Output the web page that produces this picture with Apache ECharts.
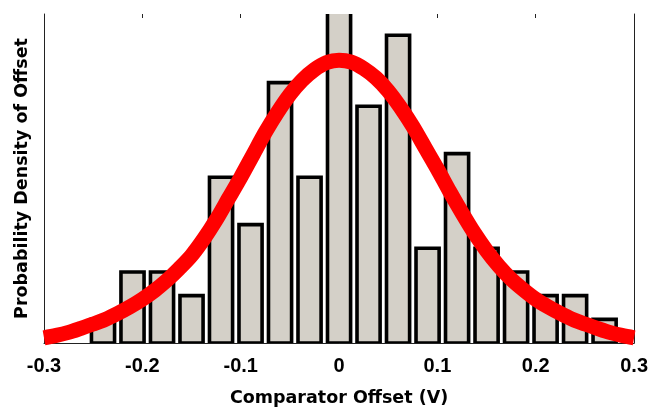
<!DOCTYPE html>
<html>
<head>
<meta charset="utf-8">
<script src="https://cdn.jsdelivr.net/npm/echarts@6/dist/echarts.min.js"></script>
<style>
  html, body { margin: 0; padding: 0; background: #fff; }
  #chart { width: 651px; height: 412px; }
</style>
</head>
<body>
<div id="chart"></div>
<script>
// histogram bins (centre of each bin, volts) and counts
var binCenters = [-0.24, -0.21, -0.18, -0.15, -0.12, -0.09, -0.06, -0.03, 0,
                  0.03, 0.06, 0.09, 0.12, 0.15, 0.18, 0.21, 0.24, 0.27];
var binCounts = [1, 3, 3, 2, 7, 5, 11, 7, 14, 10, 13, 4, 8, 4, 3, 2, 2, 1];
var binWidth = 0.03;

// fitted density curve, every 0.0125 V
var curveX = [-0.3, -0.2875, -0.275, -0.2625, -0.25, -0.2375, -0.225, -0.2125,
              -0.2, -0.1875, -0.175, -0.1625, -0.15, -0.1375, -0.125, -0.1125,
              -0.1, -0.0875, -0.075, -0.0625, -0.05, -0.0375, -0.025, -0.0125,
              0,
              0.0125, 0.025, 0.0375, 0.05, 0.0625, 0.075, 0.0875, 0.1,
              0.1125, 0.125, 0.1375, 0.15, 0.1625, 0.175, 0.1875, 0.2,
              0.2125, 0.225, 0.2375, 0.25, 0.2625, 0.275, 0.2875, 0.3];
var curveY = [0.22, 0.32, 0.45, 0.62, 0.8, 1.0, 1.25, 1.53,
              1.85, 2.22, 2.65, 3.15, 3.7, 4.4, 5.2, 6.1,
              7.0, 7.95, 8.9, 9.75, 10.5, 11.1, 11.55, 11.85,
              11.95,
              11.87, 11.6, 11.2, 10.65, 9.95, 9.15, 8.25, 7.35,
              6.4, 5.5, 4.65, 3.9, 3.25, 2.7, 2.25, 1.85,
              1.53, 1.25, 1.0, 0.8, 0.62, 0.45, 0.32, 0.22];

// x tick labels
var xTicks = [-0.3, -0.2, -0.1, 0, 0.1, 0.2, 0.3];

var barData = [];
for (var i = 0; i < binCenters.length; i++) {
    barData.push([binCenters[i], binCounts[i]]);
}
var lineData = [];
for (var j = 0; j < curveX.length; j++) {
    lineData.push([curveX[j], curveY[j]]);
}

var myChart = echarts.init(document.getElementById('chart'));

var labelFont = {
    color: '#000',
    fontFamily: '"Liberation Sans", Arial, sans-serif',
    fontWeight: 'bold',
    fontSize: 20
};
var nameFont = {
    color: '#000',
    fontFamily: '"DejaVu Sans", sans-serif',
    fontWeight: 'bold',
    fontSize: 17.5
};

// one histogram bar; a bar taller than the plot is cut at the top with no top edge
function renderBar(params, api) {
    var x = api.value(0);
    var h = api.value(1);
    var p0 = api.coord([x - binWidth / 2, 0]);
    var p1 = api.coord([x + binWidth / 2, h]);
    var inset = 3.2;
    var left = p0[0] + inset;
    var right = p1[0] - inset;
    var bottom = p0[1];
    var gridTop = params.coordSys.y;
    if (p1[1] >= gridTop) {
        return {
            type: 'rect',
            shape: { x: left, y: p1[1], width: right - left, height: bottom - p1[1] },
            style: { fill: '#d4d0c8', stroke: '#000', lineWidth: 3.6 }
        };
    }
    return {
        type: 'group',
        children: [{
            type: 'rect',
            shape: { x: left, y: gridTop, width: right - left, height: bottom - gridTop },
            style: { fill: '#d4d0c8' }
        }, {
            type: 'polyline',
            shape: { points: [[left, gridTop], [left, bottom], [right, bottom], [right, gridTop]] },
            style: { fill: null, stroke: '#000', lineWidth: 3.6 }
        }]
    };
}

var option = {
    backgroundColor: '#fff',
    animation: false,
    grid: { left: 44, right: 16, top: 14, bottom: 69 },
    xAxis: [{
        type: 'value',
        position: 'bottom',
        min: xTicks[0],
        max: xTicks[xTicks.length - 1],
        interval: 0.1,
        name: 'Comparator Offset (V)',
        nameLocation: 'middle',
        nameGap: 46,
        nameTextStyle: nameFont,
        axisLine: { show: true, onZero: false, lineStyle: { color: '#222', width: 1 } },
        axisTick: { show: true, inside: true, length: 4, lineStyle: { color: '#222' } },
        axisLabel: Object.assign({
            margin: 13,
            formatter: function (v) {
                return Math.abs(v) < 1e-9 ? '0' : v.toFixed(1);
            }
        }, labelFont),
        splitLine: { show: false }
    }, {
        type: 'value',
        position: 'top',
        min: xTicks[0],
        max: xTicks[xTicks.length - 1],
        interval: 0.1,
        axisLine: { show: false, onZero: false },
        axisTick: { show: true, inside: true, length: 4, lineStyle: { color: '#222' } },
        axisLabel: { show: false },
        splitLine: { show: false }
    }],
    yAxis: [{
        type: 'value',
        position: 'left',
        min: 0,
        max: 13.9,
        name: 'Probability Density of Offset',
        nameLocation: 'middle',
        nameGap: 13,
        nameTextStyle: nameFont,
        axisLine: { show: true, onZero: false, lineStyle: { color: '#222', width: 1 } },
        axisTick: { show: false },
        axisLabel: { show: false },
        splitLine: { show: false }
    }, {
        type: 'value',
        position: 'right',
        min: 0,
        max: 13.9,
        axisLine: { show: true, onZero: false, lineStyle: { color: '#222', width: 1 } },
        axisTick: { show: false },
        axisLabel: { show: false },
        splitLine: { show: false }
    }],
    series: [{
        type: 'custom',
        clip: true,
        xAxisIndex: 0,
        yAxisIndex: 0,
        data: barData,
        encode: { x: 0, y: 1 },
        renderItem: renderBar,
        z: 2
    }, {
        type: 'line',
        xAxisIndex: 0,
        yAxisIndex: 0,
        data: lineData,
        smooth: 0.3,
        showSymbol: false,
        symbol: 'none',
        clip: true,
        lineStyle: { color: '#ff0000', width: 15 },
        z: 3
    }]
};

myChart.setOption(option);
</script>
</body>
</html>
